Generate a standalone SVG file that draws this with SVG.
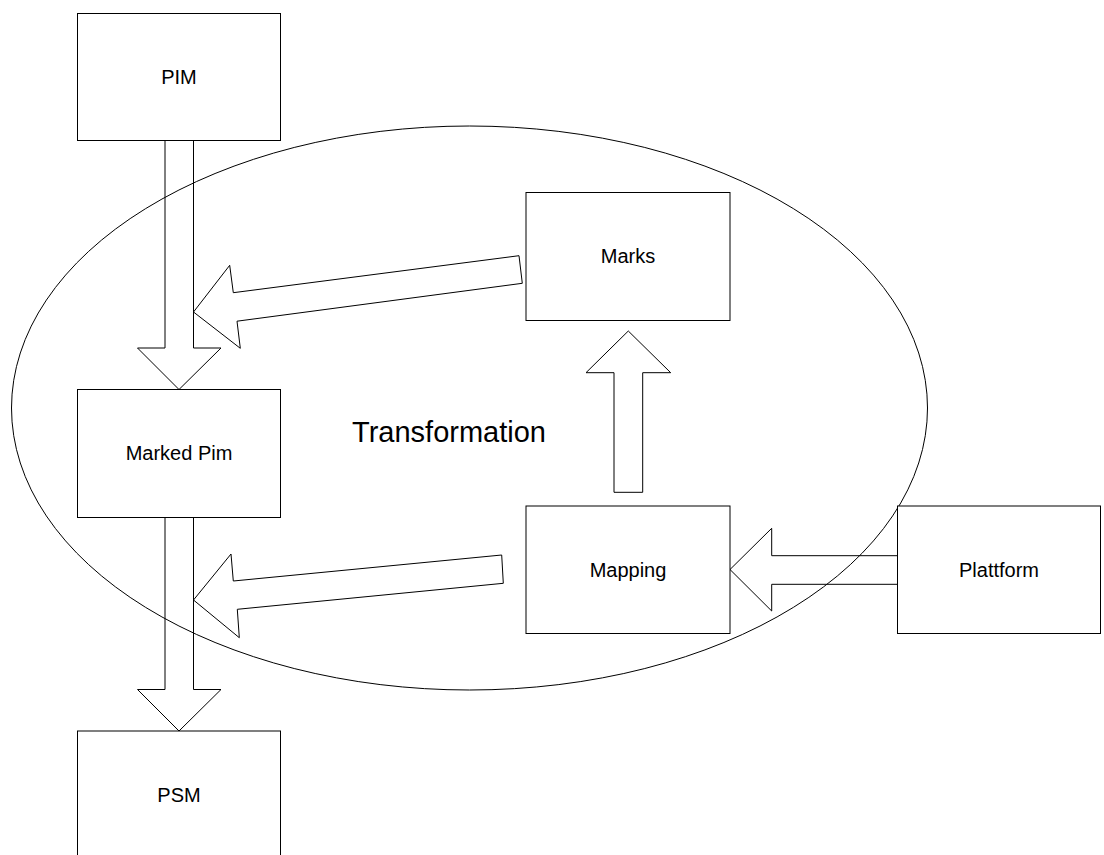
<svg xmlns="http://www.w3.org/2000/svg" width="1104" height="855" viewBox="0 0 1104 855">
  <style>
    .box { fill: #ffffff; stroke: #000000; stroke-width: 1; }
    .arrow { fill: none; stroke: #000000; stroke-width: 1; stroke-linejoin: miter; }
    .region { fill: none; stroke: #000000; stroke-width: 1; }
    .label { font-family: "Liberation Sans", Arial, sans-serif; font-size: 20px; fill: #000000; text-anchor: middle; }
    .title { font-family: "Liberation Sans", Arial, sans-serif; font-size: 29px; fill: #000000; text-anchor: middle; }
  </style>
  <rect width="1104" height="855" fill="#ffffff"/>

  <!-- transformation region -->
  <g id="transformation">
    <ellipse class="region" cx="469.5" cy="408" rx="458" ry="282"/>
    <text class="title" x="449" y="441.5">Transformation</text>
  </g>

  <g id="pim">
    <rect class="box" x="77.5" y="13.5" width="203" height="127"/>
    <text class="label" x="179" y="83.5">PIM</text>
  </g>

  <g id="marked-pim">
    <rect class="box" x="77.5" y="389.5" width="203" height="128"/>
    <text class="label" x="179" y="459.5">Marked Pim</text>
  </g>

  <g id="psm">
    <rect class="box" x="77.5" y="731" width="203" height="140"/>
    <text class="label" x="179" y="801.5">PSM</text>
  </g>

  <g id="marks">
    <rect class="box" x="526" y="192.5" width="204" height="128"/>
    <text class="label" x="628" y="263">Marks</text>
  </g>

  <g id="mapping">
    <rect class="box" x="526" y="506" width="204" height="127.5"/>
    <text class="label" x="628" y="576.5">Mapping</text>
  </g>

  <g id="plattform">
    <rect class="box" x="897.5" y="506" width="203" height="127.5"/>
    <text class="label" x="999" y="576.5">Plattform</text>
  </g>

  <!-- block arrows -->
  <g id="connectors">
    <polygon class="arrow" points="165,140.5 193.5,140.5 193.5,348 221,348 179,389.5 137.5,348 165,348"/>
    <polygon class="arrow" points="165,517.5 193.5,517.5 193.5,689.5 221,689.5 179,731 137.5,689.5 165,689.5"/>
    <polygon class="arrow" points="519,255.7 233.3,292.7 229.7,265.3 193.5,312 240.3,348.3 237,321.2 522.3,283.3"/>
    <polygon class="arrow" points="501.7,555 233.3,581 231,554 193.5,600 239.3,637.7 237.3,609.3 503.3,583.3"/>
    <polygon class="arrow" points="614,492.3 614,372.7 586,372.7 628.3,331 670.7,372.7 642.7,372.7 642.7,492.3"/>
    <polygon class="arrow" points="897.5,555.7 771.7,555.7 771.7,528.3 730,569.5 771.7,611 771.7,584.3 897.5,584.3"/>
  </g>
</svg>
